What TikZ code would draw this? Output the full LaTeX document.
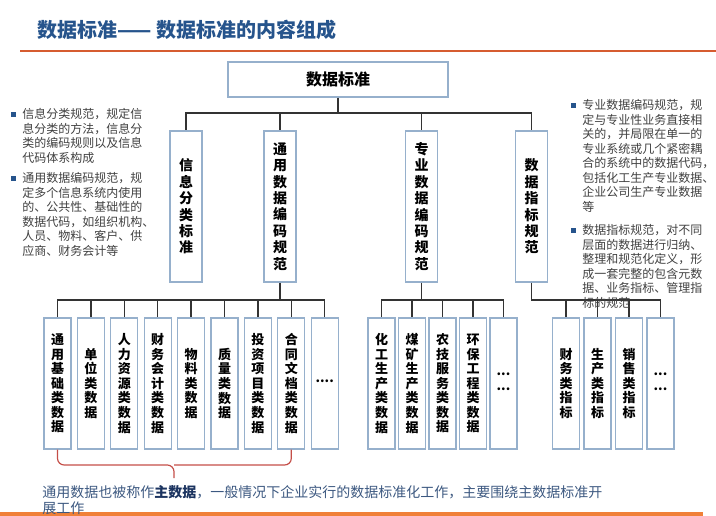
\documentclass[tikz,border=0pt]{standalone}
\usepackage{fontspec}
\setmainfont{Noto Sans CJK SC}
\definecolor{titleblue}{RGB}{38,84,140}
\definecolor{rulered}{RGB}{214,92,48}
\definecolor{barorange}{RGB}{240,128,56}
\definecolor{boxline}{RGB}{150,176,204}
\definecolor{bracered}{RGB}{196,78,72}
\definecolor{notegrey}{RGB}{64,64,64}
\definecolor{footblue}{RGB}{60,88,128}
\definecolor{mainblue}{RGB}{28,52,96}
\newcommand{\Bul}{\llap{\textcolor{titleblue}{\rule[1.5pt]{3.75pt}{3.75pt}}\hspace{5pt}}}
\newcommand{\Dots}[1]{\raisebox{0.3em}{#1}}

\begin{document}
\begin{tikzpicture}[x=0.75pt,y=-0.75pt,
  stdbox/.style={draw=boxline, line width=0.8pt, fill=white, inner sep=0pt},
  topbox/.style={stdbox, minimum width=165pt, minimum height=26.25pt, font=\fontsize{12}{14}\selectfont\bfseries},
  subbox/.style={stdbox, minimum width=24pt, minimum height=113.25pt, align=center, font=\fontsize{10.5}{12.3}\selectfont\bfseries},
  leafbox/.style={stdbox, minimum width=20.25pt, minimum height=98.25pt, align=center, font=\fontsize{9.75}{10.9}\selectfont\bfseries},
  link/.style={draw=black!80, line width=1pt},
  note/.style={anchor=north west, inner sep=0pt, align=left, text=notegrey, font=\fontsize{9}{10.875}\selectfont}]
\useasboundingbox (0,0) rectangle (716,516);

% title and rules
\node[anchor=west, inner sep=0pt, text=titleblue, font=\fontsize{15}{18}\selectfont\bfseries] (title) at (37,30) {数据标准—— 数据标准的内容组成};
\draw[rulered, line width=1.5pt] (20,51) -- (716,51);
\fill[barorange] (0,512) rectangle (703,516);

% tree
\node[topbox] (std) at (338,79.5) {数据标准};
\node[subbox] (cls) at (186,206.5) {信\\息\\分\\类\\标\\准};
\node[subbox] (gen) at (280,206.5) {通\\用\\数\\据\\编\\码\\规\\范};
\node[subbox] (pro) at (421.5,206.5) {专\\业\\数\\据\\编\\码\\规\\范};
\node[subbox] (ind) at (531.5,206.5) {数\\据\\指\\标\\规\\范};

\node[leafbox] (gen-1) at (57.5,383.5) {通\\用\\基\\础\\类\\数\\据};
\node[leafbox] (gen-2) at (90.9,383.5) {单\\位\\类\\数\\据};
\node[leafbox] (gen-3) at (124.3,383.5) {人\\力\\资\\源\\类\\数\\据};
\node[leafbox] (gen-4) at (157.7,383.5) {财\\务\\会\\计\\类\\数\\据};
\node[leafbox] (gen-5) at (191.1,383.5) {物\\料\\类\\数\\据};
\node[leafbox] (gen-6) at (224.5,383.5) {质\\量\\类\\数\\据};
\node[leafbox] (gen-7) at (257.9,383.5) {投\\资\\项\\目\\类\\数\\据};
\node[leafbox] (gen-8) at (291.3,383.5) {合\\同\\文\\档\\类\\数\\据};
\node[leafbox] (gen-9) at (324.7,383.5) {\Dots{....}};

\node[leafbox] (pro-1) at (381.5,383.5) {化\\工\\生\\产\\类\\数\\据};
\node[leafbox] (pro-2) at (412,383.5) {煤\\矿\\生\\产\\类\\数\\据};
\node[leafbox] (pro-3) at (442.5,383.5) {农\\技\\服\\务\\类\\数\\据};
\node[leafbox] (pro-4) at (473,383.5) {环\\保\\工\\程\\类\\数\\据};
\node[leafbox] (pro-5) at (503.5,383.5) {\Dots{...}\\\Dots{...}};

\node[leafbox] (ind-1) at (566,383.5) {财\\务\\类\\指\\标};
\node[leafbox] (ind-2) at (597.5,383.5) {生\\产\\类\\指\\标};
\node[leafbox] (ind-3) at (629,383.5) {销\\售\\类\\指\\标};
\node[leafbox] (ind-4) at (660.5,383.5) {\Dots{...}\\\Dots{...}};

\coordinate (bus) at (338,113);
\coordinate (gen-bus) at (280,300);
\coordinate (pro-bus) at (421.5,300);
\coordinate (ind-bus) at (531.5,300);

\draw[link] (std.south) -- (bus) -| (cls.north);
\draw[link] (bus) -| (gen.north);
\draw[link] (bus) -| (pro.north);
\draw[link] (bus) -| (ind.north);

\draw[link] (gen.south) -- (gen-bus) -| (gen-1.north);
\draw[link] (gen-bus) -| (gen-2.north);
\draw[link] (gen-bus) -| (gen-3.north);
\draw[link] (gen-bus) -| (gen-4.north);
\draw[link] (gen-bus) -| (gen-5.north);
\draw[link] (gen-bus) -| (gen-6.north);
\draw[link] (gen-bus) -| (gen-7.north);
\draw[link] (gen-bus) -| (gen-8.north);
\draw[link] (gen-bus) -| (gen-9.north);

\draw[link] (pro.south) -- (pro-bus) -| (pro-1.north);
\draw[link] (pro-bus) -| (pro-2.north);
\draw[link] (pro-bus) -| (pro-3.north);
\draw[link] (pro-bus) -| (pro-4.north);
\draw[link] (pro-bus) -| (pro-5.north);

\draw[link] (ind.south) -- (ind-bus) -| (ind-1.north);
\draw[link] (ind-bus) -| (ind-2.north);
\draw[link] (ind-bus) -| (ind-3.north);
\draw[link] (ind-bus) -| (ind-4.north);

% brace over the master data
\coordinate (brace-mid) at (174,465);
\coordinate (brace-tip) at (174,478);
\draw[bracered, line width=0.9pt, rounded corners=5pt] (gen-1.south) |- (brace-mid) -- (brace-tip);
\draw[bracered, line width=0.9pt, rounded corners=5pt] (gen-8.south) |- (brace-mid);

% notes
\node[note] (cls-note) at (22,108.5) {\Bul 信息分类规范，规定信\\息分类的方法，信息分\\类的编码规则以及信息\\代码体系构成};
\node[note] (gen-note) at (22,172.5) {\Bul 通用数据编码规范，规\\定多个信息系统内使用\\的、公共性、基础性的\\数据代码，如组织机构、\\人员、物料、客户、供\\应商、财务会计等};
\node[note] (pro-note) at (582,99.5) {\Bul 专业数据编码规范，规\\定与专业性业务直接相\\关的，并局限在单一的\\专业系统或几个紧密耦\\合的系统中的数据代码，\\包括化工生产专业数据、\\企业公司生产专业数据\\等};
\node[note] (ind-note) at (582,224.5) {\Bul 数据指标规范，对不同\\层面的数据进行归纳、\\整理和规范化定义，形\\成一套完整的包含元数\\据、业务指标、管理指\\标的规范};

\node[note, text=footblue, font=\fontsize{10.5}{12}\selectfont] (foot) at (42,485.5) {通用数据也被称作\textbf{\textcolor{mainblue}{主数据}}，一般情况下企业实行的数据标准化工作，主要围绕主数据标准开\\展工作};
\end{tikzpicture}
\end{document}
